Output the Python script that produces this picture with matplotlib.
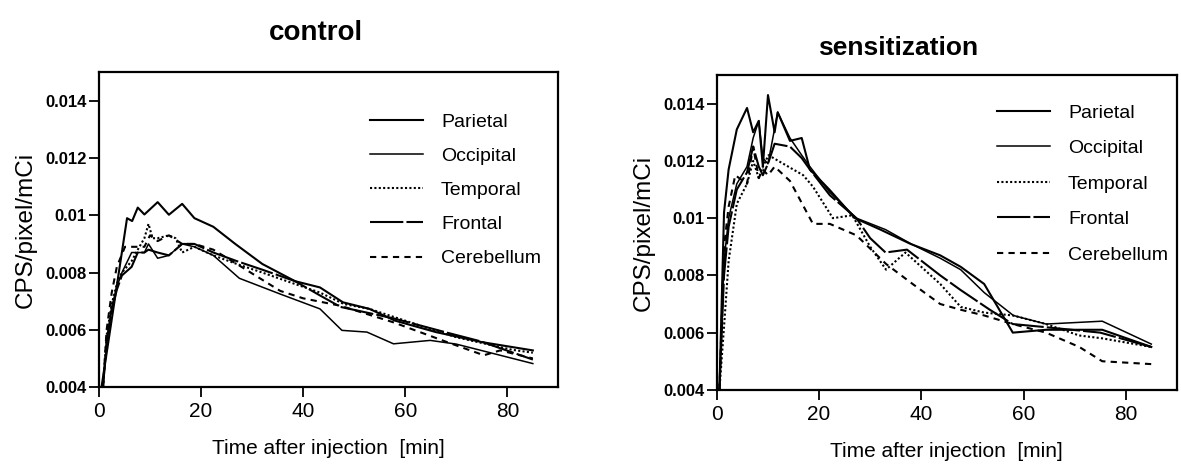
import numpy as np
import matplotlib
matplotlib.use('Agg')
import matplotlib.pyplot as plt

plt.rcParams['font.family'] = ['Liberation Sans', 'DejaVu Sans']

regions = ['Parietal', 'Occipital', 'Temporal', 'Frontal', 'Cerebellum']

# control
c_par_t = [0.5, 5.5, 6.5, 7.6, 8.9, 11.5, 13.7, 16.3, 18.7, 22.4, 26.7, 32, 38.4, 43.3, 47.8, 53, 58, 66, 75, 85]
c_par_v = [0.004, 0.0099, 0.0098, 0.01027, 0.01003, 0.01046, 0.01002, 0.0104, 0.0099, 0.0096, 0.0090,
           0.0083, 0.0077, 0.00748, 0.00696, 0.00673, 0.00632, 0.00592, 0.00557, 0.00528]
c_occ_t = [0.8, 1.5, 2.5, 3.5, 4.5, 6.4, 8.9, 9.7, 11.5, 13.7, 16.3, 18.7, 22.4, 27.5, 35.5, 43.3,
           47.6, 52.5, 57.7, 64.9, 70, 85]
c_occ_v = [0.004, 0.0055, 0.0068, 0.0075, 0.0080, 0.0087, 0.0087, 0.0090, 0.0085, 0.0086, 0.0090,
           0.0089, 0.0086, 0.0078, 0.00725, 0.00673, 0.00598, 0.00592, 0.00551, 0.00563, 0.0055, 0.00482]
c_tem_t = [0.8, 1.5, 2.5, 3.5, 4.5, 6.4, 7.6, 8.9, 9.7, 10.5, 11.5, 13.7, 15, 16.3, 18.7, 22.4, 27, 32,
           38.4, 43.3, 48, 53, 62, 70, 81, 85]
c_tem_v = [0.004, 0.0058, 0.0069, 0.0076, 0.0080, 0.0084, 0.0088, 0.0092, 0.0097, 0.0092, 0.0092,
           0.0093, 0.0092, 0.0087, 0.0089, 0.0086, 0.0083, 0.0080, 0.0076, 0.0073, 0.0069, 0.00673,
           0.0062, 0.00574, 0.0053, 0.0052]
c_fro_t = [0.8, 1.5, 2.5, 3.5, 4.5, 6.4, 7.6, 8.9, 9.7, 11.5, 13.7, 16.3, 18.7, 22.4, 27, 32, 38.4,
           43.3, 47.3, 57.7, 68.2, 74.7, 85]
c_fro_v = [0.004, 0.0056, 0.0067, 0.0074, 0.0079, 0.0082, 0.0087, 0.0087, 0.0088, 0.0087, 0.0086,
           0.0090, 0.0090, 0.0087, 0.0084, 0.0081, 0.0077, 0.0072, 0.0068, 0.0064, 0.0059, 0.0056, 0.00496]
c_cer_t = [0.8, 1.5, 2.5, 3.5, 5.1, 6.4, 8.9, 10, 11.5, 13.7, 16.3, 18.7, 22.4, 27, 35.5, 40, 47.3,
           57.7, 68.2, 75.4, 78.6, 85]
c_cer_v = [0.004, 0.0060, 0.0073, 0.0082, 0.0089, 0.0089, 0.0089, 0.0093, 0.0091, 0.0093, 0.0090,
           0.0090, 0.0088, 0.0083, 0.00736, 0.0071, 0.00684, 0.00626, 0.00557, 0.00511, 0.00528, 0.0050]

# sensitization
s_par_t = [0.5, 1.4, 2.3, 3.9, 5.9, 7.1, 8.2, 9.0, 10.0, 11.3, 11.9, 14.3, 16.6, 18.2, 22, 27, 32,
           37.9, 43.7, 47.7, 52.3, 57.9, 64.4, 70.9, 75.4, 85]
s_par_v = [0.004, 0.0102, 0.0117, 0.0131, 0.01385, 0.0130, 0.0134, 0.0118, 0.0143, 0.0130, 0.0137,
           0.0127, 0.0128, 0.0117, 0.0110, 0.0100, 0.0096, 0.0091, 0.0087, 0.0083, 0.0077, 0.0060,
           0.0061, 0.0061, 0.0061, 0.0055]
s_occ_t = [0.5, 1.4, 2.3, 3.9, 5.9, 7.1, 8.2, 9.0, 10.0, 11.9, 14.3, 16.6, 18.2, 22.1, 27.3, 33, 38,
           43.7, 47.7, 52.3, 58, 64.4, 75.4, 85]
s_occ_v = [0.004, 0.0085, 0.0100, 0.0112, 0.0118, 0.0128, 0.0134, 0.0121, 0.0119, 0.0137, 0.0128,
           0.0122, 0.0118, 0.0109, 0.0100, 0.0096, 0.0091, 0.0086, 0.0082, 0.0074, 0.0066, 0.0063,
           0.0064, 0.0056]
s_tem_t = [0.5, 1.4, 2.3, 3.9, 5.9, 7.1, 8.2, 9, 10.1, 13, 16.9, 18.8, 22.7, 26.5, 30, 33.1, 36.9,
           43.7, 47.7, 52.3, 57.9, 64.4, 70.9, 75.4, 85]
s_tem_v = [0.004, 0.0062, 0.0085, 0.0105, 0.0112, 0.0120, 0.0114, 0.0118, 0.0122, 0.0119, 0.0115,
           0.0111, 0.0100, 0.0101, 0.0090, 0.0082, 0.0088, 0.0077, 0.0069, 0.0067, 0.0066, 0.0063,
           0.0059, 0.0058, 0.0055]
s_fro_t = [0.5, 1.4, 2.3, 3.9, 5.9, 7.1, 8.2, 9.0, 10.0, 11.3, 14.3, 16.6, 18.2, 22.1, 27.3, 30, 33,
           37.2, 43.7, 47.6, 53.4, 57.9, 63.8, 75, 85]
s_fro_v = [0.004, 0.0080, 0.0097, 0.0110, 0.0116, 0.0125, 0.0118, 0.0115, 0.0119, 0.0126, 0.0125,
           0.0121, 0.0117, 0.0108, 0.0100, 0.0093, 0.0088, 0.0089, 0.0080, 0.0075, 0.0068, 0.0063,
           0.0062, 0.0060, 0.0055]
s_cer_t = [0.5, 1.4, 2.3, 3.6, 5.9, 7.1, 8.2, 9.0, 10.0, 11.3, 14.3, 18.8, 22.1, 27.3, 33.1, 38.3,
           43.7, 47.7, 52.3, 57.9, 64.4, 70.9, 75.4, 85]
s_cer_v = [0.004, 0.0090, 0.0104, 0.0115, 0.0112, 0.0125, 0.0114, 0.0117, 0.0115, 0.0118, 0.0113,
           0.0098, 0.0098, 0.0094, 0.0084, 0.0077, 0.0070, 0.0068, 0.0066, 0.0063, 0.0060, 0.0055,
           0.0050, 0.0049]

xticks = [0, 20, 40, 60, 80]
yticks = [0.004, 0.006, 0.008, 0.01, 0.012, 0.014]
ylabels = ['0.004', '0.006', '0.008', '0.01', '0.012', '0.014']

styles = [dict(ls='-', lw=1.5),
          dict(ls='-', lw=1.1),
          dict(ls=(0, (1, 1.1)), lw=1.5),
          dict(ls=(0, (16, 1.5)), lw=1.5),
          dict(ls=(0, (3, 2.5)), lw=1.5)]


def panel(ax, series, leg_xy, spacing):
    for (t, v), name, st in zip(series, regions, styles):
        ax.plot(t, v, color='k', label=name, **st)
    ax.set_xlim(0, 90)
    ax.set_ylim(0.004, 0.015)
    ax.set_xticks(xticks)
    ax.set_yticks(yticks)
    ax.set_yticklabels(ylabels, fontsize=12, fontweight='bold')
    ax.tick_params(axis='x', labelsize=15, direction='out', length=7, width=1.3, pad=4)
    ax.tick_params(axis='y', direction='out', length=7, width=1.3, pad=2)
    for s in ax.spines.values():
        s.set_linewidth(1.6)
    ax.set_xlabel('Time after injection  [min]', fontsize=15, labelpad=13)
    ax.set_ylabel('CPS/pixel/mCi', fontsize=17.5, labelpad=6)
    ax.legend(loc='upper left', bbox_to_anchor=leg_xy, frameon=False, fontsize=14,
              handlelength=2.75, handletextpad=0.9, labelspacing=spacing,
              borderpad=0, borderaxespad=0)


fig = plt.figure(figsize=(11.81, 4.72), dpi=100)
ax1 = fig.add_axes([0.0838, 0.180, 0.389, 0.667])
ax2 = fig.add_axes([0.607, 0.174, 0.3895, 0.667])

panel(ax1, [(c_par_t, c_par_v), (c_occ_t, c_occ_v), (c_tem_t, c_tem_v),
            (c_fro_t, c_fro_v), (c_cer_t, c_cer_v)], (0.59, 0.87), 0.85)
panel(ax2, [(s_par_t, s_par_v), (s_occ_t, s_occ_v), (s_tem_t, s_tem_v),
            (s_fro_t, s_fro_v), (s_cer_t, s_cer_v)], (0.609, 0.908), 0.92)

fig.text(316 / 1181, 1 - 33 / 472, 'control', fontsize=20, fontweight='bold',
         ha='center', va='center')
fig.text(898 / 1181, 1 - 48 / 472, 'sensitization', fontsize=19, fontweight='bold',
         ha='center', va='center')

fig.savefig('out.png', dpi=100)
